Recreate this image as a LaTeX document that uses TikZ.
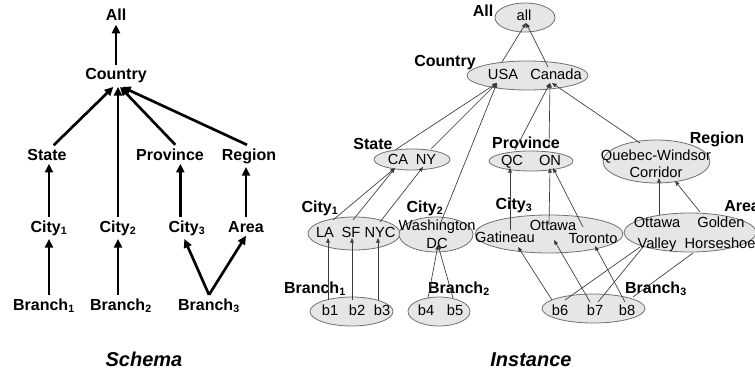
\documentclass[tikz,border=0pt]{standalone}
\usepackage{fontspec}
\setmainfont{Liberation Sans}
\usetikzlibrary{arrows.meta,shapes.geometric}
\definecolor{efill}{HTML}{E6E6E6}
\definecolor{eline}{HTML}{707070}
\definecolor{cline}{HTML}{3A3A3A}
\tikzset{
  slab/.style={font=\fontsize{12}{14}\selectfont\bfseries, inner sep=2.5pt, anchor=base},
  lab/.style={font=\fontsize{12}{14}\selectfont\bfseries, inner sep=0pt, anchor=base},
  ttl/.style={font=\fontsize{15}{18}\selectfont\bfseries\itshape, inner sep=0pt, anchor=base},
  itxt/.style={font=\fontsize{11}{13}\selectfont, inner sep=0pt, anchor=base},
  iell/.style={ellipse, draw=eline, fill=efill, line width=0.6pt, inner sep=0pt},
  sarr/.style={line width=2pt, -{Triangle[length=6.5pt,width=6pt]}},
  iarr/.style={draw=cline, line width=0.5pt, -{Triangle[length=3.5pt,width=2.8pt]}},
  iln/.style={draw=cline, line width=0.5pt},
}
\begin{document}
\begin{tikzpicture}[x=0.75pt,y=-0.75pt]
\useasboundingbox (0,0) rectangle (755,374);
% ---------------- Schema ----------------
\node[slab] (sAll) at (116,21) {All};
\node[slab] (sCountry) at (116,80) {Country};
\node[slab] (sState) at (47,160) {State};
\node[slab] (sProv) at (170,160) {Province};
\node[slab] (sRegion) at (249,160) {Region};
\node[slab] (sCity1) at (49,232) {City\textsubscript{1}};
\node[slab] (sCity2) at (118,232) {City\textsubscript{2}};
\node[slab] (sCity3) at (187,232) {City\textsubscript{3}};
\node[slab] (sArea) at (246,232) {Area};
\node[slab] (sB1) at (44,310) {Branch\textsubscript{1}};
\node[slab] (sB2) at (121,310) {Branch\textsubscript{2}};
\node[slab] (sB3) at (209,310) {Branch\textsubscript{3}};
\node[ttl] (schema) at (144,366) {Schema};

\draw[sarr] (sCountry.north) -- (sAll.south);
\draw[sarr] ([xshift=5pt]sState.north) -- ([xshift=-2pt]sCountry.south);
\draw[sarr] (sCity2.north) -- (sCity2.north |- sCountry.south);
\draw[sarr] ([xshift=4pt]sProv.north) -- ([xshift=3pt]sCountry.south);
\draw[sarr] ([xshift=-1.5pt]sRegion.north) -- ([xshift=4.5pt]sCountry.south);
\draw[sarr] (sCity1.north) -- (sCity1.north |- sState.south);
\draw[sarr] ([xshift=-5pt]sCity3.north) -- ([xshift=-5pt]sCity3.north |- sProv.south);
\draw[sarr] (sArea.north) -- (sArea.north |- sRegion.south);
\draw[sarr] (sCity1.south |- sB1.north) -- (sCity1.south);
\draw[sarr] (sCity2.south |- sB2.north) -- (sCity2.south);
\draw[sarr] (sB3.north) -- ([xshift=-2pt]sCity3.south);
\draw[sarr] (sB3.north) -- (sArea.south);

% ---------------- Instance ellipses ----------------
\node[iell, minimum width=45pt, minimum height=21.75pt] (eAll) at (525,17.5) {};
\node[iell, minimum width=90.75pt, minimum height=21.75pt] (eCountry) at (527.5,75.5) {};
\node[iell, minimum width=57pt, minimum height=15.75pt] (eState) at (412,159.5) {};
\node[iell, minimum width=63pt, minimum height=15pt] (eProv) at (531,161) {};
\node[iell, minimum width=80.25pt, minimum height=32.25pt] (eRegion) at (656.5,161.5) {};
\node[iell, minimum width=69pt, minimum height=24.75pt] (eCity1) at (354,233.5) {};
\node[iell, minimum width=55.5pt, minimum height=26.25pt] (eCity2) at (436,234.5) {};
\node[iell, minimum width=111pt, minimum height=28.5pt] (eCity3) at (549,234) {};
\node[iell, minimum width=99pt, minimum height=29.25pt] (eArea) at (690,232.5) {};
\node[iell, minimum width=62.25pt, minimum height=21.75pt] (eB1) at (351.5,311.5) {};
\node[iell, minimum width=46.5pt, minimum height=21.75pt] (eB2) at (439,311.5) {};
\node[iell, minimum width=77.25pt, minimum height=21.75pt] (eB3) at (593.5,308.5) {};

% ---------------- Instance words ----------------
\node[itxt] (wAll) at (524,21) {all};
\node[itxt] (wUSA) at (503,80) {USA};
\node[itxt] (wCanada) at (556,80) {Canada};
\node[itxt] (wCA) at (398,164) {CA};
\node[itxt] (wNY) at (426,164) {NY};
\node[itxt] (wQC) at (512,165) {QC};
\node[itxt] (wON) at (550,165) {ON};
\node[itxt] (wQW) at (656,160) {Quebec-Windsor};
\node[itxt] (wCorr) at (656,177) {Corridor};
\node[itxt] (wLA) at (325,237) {LA};
\node[itxt] (wSF) at (351,237) {SF};
\node[itxt] (wNYC) at (380,237) {NYC};
\node[itxt] (wWash) at (437,230) {Washington};
\node[itxt] (wDC) at (437,248) {DC};
\node[itxt] (wGat) at (505,242) {Gatineau};
\node[itxt] (wOtt) at (553,230) {Ottawa};
\node[itxt] (wTor) at (593,243) {Toronto};
\node[itxt] (wOtt2) at (657,227) {Ottawa};
\node[itxt] (wVal) at (657,248) {Valley};
\node[itxt] (wGold) at (721,227) {Golden};
\node[itxt] (wHorse) at (720,248) {Horseshoe};
\node[itxt] (wb1) at (330,315) {b1};
\node[itxt] (wb2) at (357,315) {b2};
\node[itxt] (wb3) at (382,315) {b3};
\node[itxt] (wb4) at (426,315) {b4};
\node[itxt] (wb5) at (455,315) {b5};
\node[itxt] (wb6) at (560,315) {b6};
\node[itxt] (wb7) at (595,315) {b7};
\node[itxt] (wb8) at (627,315) {b8};

% ---------------- Instance level labels ----------------
\node[lab] (lAll) at (483,17) {All};
\node[lab] (lCountry) at (445,67) {Country};
\node[lab] (lState) at (373,149) {State};
\node[lab] (lProv) at (526,148) {Province};
\node[lab] (lRegion) at (717,143) {Region};
\node[lab] (lCity1) at (320,212) {City\textsubscript{1}};
\node[lab] (lCity2) at (425,212) {City\textsubscript{2}};
\node[lab] (lCity3) at (514,209) {City\textsubscript{3}};
\node[lab, anchor=base west] (lArea) at (724,211) {Area};
\node[lab] (lB1) at (315,293) {Branch\textsubscript{1}};
\node[lab] (lB2) at (459,293) {Branch\textsubscript{2}};
\node[lab] (lB3) at (656,293) {Branch\textsubscript{3}};
\node[ttl] (instance) at (531,366) {Instance};

% ---------------- connector end points ----------------
\coordinate (allIn) at (526,23);
\coordinate (usaOut) at (502,62);
\coordinate (canOut) at (548,67);
\coordinate (usaIn) at (497,83);
\coordinate (canIn) at (550,83);
\coordinate (caOut) at (395,150);
\coordinate (nyOut) at (431,149);
\coordinate (washOut) at (441,222);
\coordinate (caIn) at (395,168);
\coordinate (nyIn) at (423,167);
\coordinate (laOut) at (333,220);
\coordinate (sfOut) at (353,220);
\coordinate (nycOut) at (380,222);
\coordinate (laIn) at (328,238);
\coordinate (sfIn) at (352,238);
\coordinate (nycIn) at (378,238);
\coordinate (b1Out) at (328,300);
\coordinate (b2Out) at (352,300);
\coordinate (b3Out) at (378,300);
\coordinate (dcIn) at (438,245);
\coordinate (b4Out) at (428,298);
\coordinate (b5Out) at (453,298);
\coordinate (qcOut) at (515,150);
\coordinate (onOut) at (549,148);
\coordinate (regOut) at (640,143);
\coordinate (regCanIn) at (552,83);
\coordinate (qcIn) at (510,168);
\coordinate (onIn) at (550,168);
\coordinate (gatOut) at (510,230);
\coordinate (ottOut) at (549,225);
\coordinate (torOut) at (583,227);
\coordinate (torOnIn) at (553,168);
\coordinate (valOut) at (659,215);
\coordinate (valRegIn) at (659,178);
\coordinate (goldOut) at (700,212);
\coordinate (goldRegIn) at (675,181);
\coordinate (gatIn) at (518,247);
\coordinate (ottIn) at (554,240);
\coordinate (torIn) at (595,246);
\coordinate (b6Out) at (552,300);
\coordinate (b7Out) at (590,302);
\coordinate (b8Out) at (625,302);
\coordinate (b6Val) at (565,300);
\coordinate (b7Val) at (598,302);
\coordinate (b8Gold) at (633,297);
\coordinate (valIn1) at (640,247);
\coordinate (valIn2) at (643,247);
\coordinate (goldIn) at (693,253);

% ---------------- instance connectors ----------------
\draw[iarr] (usaOut) -- (allIn);
\draw[iarr] (canOut) -- (allIn);
\draw[iarr] (caOut) -- (usaIn);
\draw[iarr] (nyOut) -- (usaIn);
\draw[iarr] (washOut) -- (usaIn);
\draw[iarr] (laOut) -- (caIn);
\draw[iarr] (sfOut) -- (caIn);
\draw[iarr] (nycOut) -- (nyIn);
\draw[iarr] (b1Out) -- (laIn);
\draw[iarr] (b2Out) -- (sfIn);
\draw[iarr] (b3Out) -- (nycIn);
\draw[iarr] (b4Out) -- (dcIn);
\draw[iarr] (b5Out) -- (dcIn);
\draw[iarr] (qcOut) -- (canIn);
\draw[iarr] (onOut) -- (canIn);
\draw[iarr] (regOut) -- (regCanIn);
\draw[iarr] (gatOut) -- (qcIn);
\draw[iarr] (ottOut) -- (onIn);
\draw[iarr] (torOut) -- (torOnIn);
\draw[iarr] (valOut) -- (valRegIn);
\draw[iarr] (goldOut) -- (goldRegIn);
\draw[iarr] (b6Out) -- (gatIn);
\draw[iarr] (b7Out) -- (ottIn);
\draw[iarr] (b8Out) -- (torIn);
\draw[iln] (b6Val) -- (valIn1);
\draw[iln] (b7Val) -- (valIn2);
\draw[iln] (b8Gold) -- (goldIn);
\end{tikzpicture}
\end{document}
